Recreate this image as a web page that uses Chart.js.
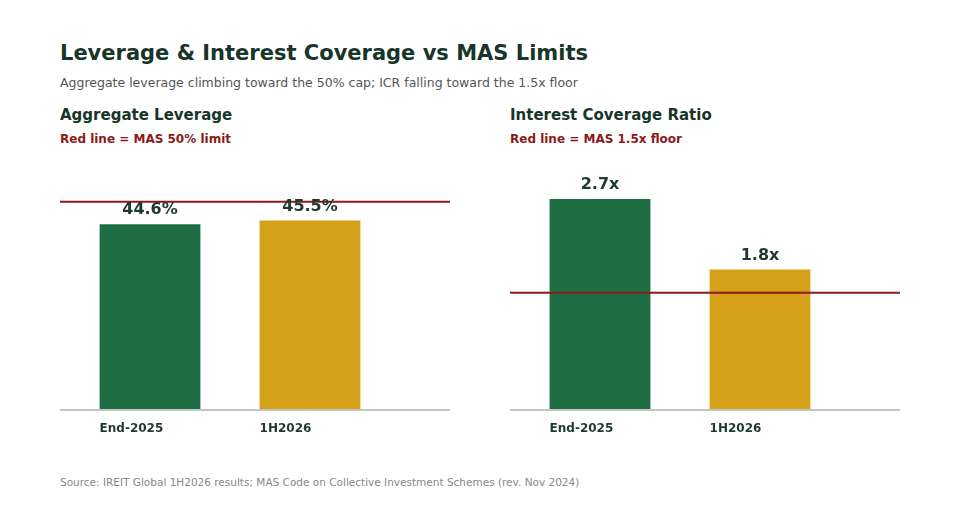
<!DOCTYPE html>
<html><head><meta charset="utf-8">
<script src="https://cdn.jsdelivr.net/npm/chart.js@4"></script>
<style>
body{margin:0;width:960px;height:520px;background:#fff;font-family:"DejaVu Sans",sans-serif;position:relative;overflow:hidden}
.t{position:absolute;left:60px;white-space:nowrap}
.c{position:absolute;top:150px;width:390px;height:290px}
</style></head><body>
<div class="t" style="top:41px;font-size:21px;font-weight:bold;color:#173528">Leverage &amp; Interest Coverage vs MAS Limits</div>
<div class="t" style="top:75px;font-size:12.5px;color:#555">Aggregate leverage climbing toward the 50% cap; ICR falling toward the 1.5x floor</div>
<div class="t" style="top:106px;font-size:15px;font-weight:bold;color:#173528">Aggregate Leverage</div>
<div class="t" style="top:132px;font-size:12px;font-weight:bold;color:#8b1a1a">Red line = MAS 50% limit</div>
<div class="t" style="left:510px;top:106px;font-size:15px;font-weight:bold;color:#173528">Interest Coverage Ratio</div>
<div class="t" style="left:510px;top:132px;font-size:12px;font-weight:bold;color:#8b1a1a">Red line = MAS 1.5x floor</div>
<div class="c" style="left:60px"><canvas id="lev"></canvas></div>
<div class="c" style="left:510px"><canvas id="icr"></canvas></div>
<div class="t" style="top:476px;font-size:10.5px;color:#888">Source: IREIT Global 1H2026 results; MAS Code on Collective Investment Schemes (rev. Nov 2024)</div>
<script>
const categories = ['End-2025', '1H2026'];
const leverage = [44.6, 45.5];
const icr = [2.7, 1.8];
const leverageLimit = 50;
const icrFloor = 1.5;
const colors = ['#1f6e43', '#d4a017'];

const overlay = {
  id: 'overlay',
  afterDatasetsDraw(chart, args, opts) {
    const ctx = chart.ctx, y = chart.scales.y, w = chart.width;
    const base = y.getPixelForValue(0);
    ctx.save();
    ctx.strokeStyle = '#c4c4c4'; ctx.lineWidth = 2;
    ctx.beginPath(); ctx.moveTo(0, base); ctx.lineTo(w, base); ctx.stroke();
    const ly = y.getPixelForValue(opts.limit);
    ctx.strokeStyle = '#8b1a1a'; ctx.lineWidth = 2;
    ctx.beginPath(); ctx.moveTo(0, ly); ctx.lineTo(w, ly); ctx.stroke();
    const meta = chart.getDatasetMeta(0);
    meta.data.forEach((bar, i) => {
      ctx.fillStyle = '#1d3a2c';
      ctx.font = 'bold 16px "DejaVu Sans"';
      ctx.textAlign = 'center'; ctx.textBaseline = 'bottom';
      ctx.fillText(opts.fmt(chart.data.datasets[0].data[i]), bar.x, bar.y - 6);
      ctx.font = 'bold 12px "DejaVu Sans"';
      ctx.textAlign = 'left'; ctx.textBaseline = 'middle';
      ctx.fillText(chart.data.labels[i], bar.x - bar.width / 2, base + 19);
    });
    ctx.restore();
  }
};

function make(id, data, max, limit, fmt) {
  new Chart(document.getElementById(id), {
    type: 'bar',
    data: { labels: categories, datasets: [{ data: data, backgroundColor: colors, barPercentage: 0.63, categoryPercentage: 1 }] },
    options: {
      responsive: true, maintainAspectRatio: false, animation: false,
      layout: { padding: { left: 10, right: 60, top: 10, bottom: 30 } },
      scales: {
        x: { display: false },
        y: { display: false, min: 0, max: max }
      },
      plugins: { legend: { display: false }, tooltip: { enabled: false }, overlay: { limit: limit, fmt: fmt } }
    },
    plugins: [overlay]
  });
}
make('lev', leverage, 60, leverageLimit, v => v.toFixed(1) + '%');
make('icr', icr, 3.2, icrFloor, v => v.toFixed(1) + 'x');
</script>
</body></html>
